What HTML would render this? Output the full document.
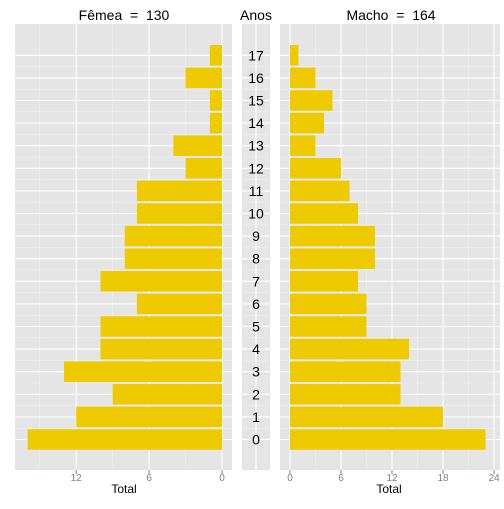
<!DOCTYPE html>
<html><head><meta charset="utf-8"><style>
body{margin:0;background:#fff;font-family:"Liberation Sans",sans-serif}
text{white-space:pre}
</style></head><body>
<svg id="c" width="504" height="504" xmlns="http://www.w3.org/2000/svg"></svg>
<script>
const ages=[0,1,2,3,4,5,6,7,8,9,10,11,12,13,14,15,16,17];
const female=[16,12,9,13,10,10,7,10,8,8,7,7,3,4,1,1,3,1];
const male=[23,18,13,13,14,9,9,8,10,10,8,7,6,3,4,5,3,1];
const femaleTicks=[12,6,0];
const maleTicks=[0,6,12,18,24];
const svg=document.getElementById('c');
const NS='http://www.w3.org/2000/svg';
function el(t,a,txt){const e=document.createElementNS(NS,t);for(const k in a)e.setAttribute(k,a[k]);if(txt!==undefined)e.textContent=txt;svg.appendChild(e);return e;}
const topY=24,botY=470;
const yc=i=>439.5-i*22.6;
const barH=20.5;
const fx=v=>222-v*12.15;
const mx=v=>290+v*8.5;
let p=el('rect',{x:15,y:topY,width:217,height:botY-topY,fill:'#e5e5e5'});


p=el('rect',{x:242,y:topY,width:28,height:botY-topY,fill:'#e5e5e5'});


p=el('rect',{x:280,y:topY,width:220,height:botY-topY,fill:'#e5e5e5'});


for(let v=3;v<=15;v+=6){el('line',{x1:fx(v),x2:fx(v),y1:topY,y2:botY,stroke:'#f2f2f2','stroke-width':0.6});}
for(let v=3;v<=21;v+=6){el('line',{x1:mx(v),x2:mx(v),y1:topY,y2:botY,stroke:'#f2f2f2','stroke-width':0.6});}
for(let i=0;i<17;i++){const y=yc(i)-11.3;
 el('line',{x1:15,x2:232,y1:y,y2:y,stroke:'#f2f2f2','stroke-width':0.6});
 el('line',{x1:242,x2:270,y1:y,y2:y,stroke:'#f2f2f2','stroke-width':0.6});
 el('line',{x1:280,x2:500,y1:y,y2:y,stroke:'#f2f2f2','stroke-width':0.6});}
femaleTicks.forEach(v=>el('line',{x1:fx(v),x2:fx(v),y1:topY,y2:botY,stroke:'#fff','stroke-width':1.1}));
maleTicks.forEach(v=>el('line',{x1:mx(v),x2:mx(v),y1:topY,y2:botY,stroke:'#fff','stroke-width':1.1}));
el('line',{x1:256,x2:256,y1:topY,y2:botY,stroke:'#fff','stroke-width':1.1});
ages.forEach((a,i)=>{const y=yc(i);
 el('line',{x1:15,x2:232,y1:y,y2:y,stroke:'#fff','stroke-width':1.1});
 el('line',{x1:242,x2:270,y1:y,y2:y,stroke:'#fff','stroke-width':1.1});
 el('line',{x1:280,x2:500,y1:y,y2:y,stroke:'#fff','stroke-width':1.1});});
ages.forEach((a,i)=>{const y=yc(i)-barH/2;
 const b=el('rect',{x:fx(female[i]),y:y,width:fx(0)-fx(female[i]),height:barH,fill:'#eecb00'});
 
 
 const m=el('rect',{x:mx(0),y:y,width:mx(male[i])-mx(0),height:barH,fill:'#eecb00'});
 
 
 const t=el('text',{x:256,y:yc(i)+5,'text-anchor':'middle','font-size':14,fill:'#000'},String(a));
 
 });
femaleTicks.forEach(v=>{el('line',{x1:fx(v),x2:fx(v),y1:botY,y2:botY+4,stroke:'#7f7f7f'});
 const t=el('text',{x:fx(v),y:481,'text-anchor':'middle','font-size':10,fill:'#7f7f7f'},String(v));
 
 });
maleTicks.forEach(v=>{el('line',{x1:mx(v),x2:mx(v),y1:botY,y2:botY+4,stroke:'#7f7f7f'});
 const t=el('text',{x:mx(v),y:481,'text-anchor':'middle','font-size':10,fill:'#7f7f7f'},String(v));
 
 });
let t=el('text',{x:124,y:493,'text-anchor':'middle','font-size':12},'Total');


t=el('text',{x:389,y:493,'text-anchor':'middle','font-size':12},'Total');


t=el('text',{x:124,y:20,'text-anchor':'middle','font-size':14},'Fêmea  =  130');


t=el('text',{x:256,y:20,'text-anchor':'middle','font-size':14},'Anos');


t=el('text',{x:391,y:20,'text-anchor':'middle','font-size':14},'Macho  =  164');


</script>
</body></html>
